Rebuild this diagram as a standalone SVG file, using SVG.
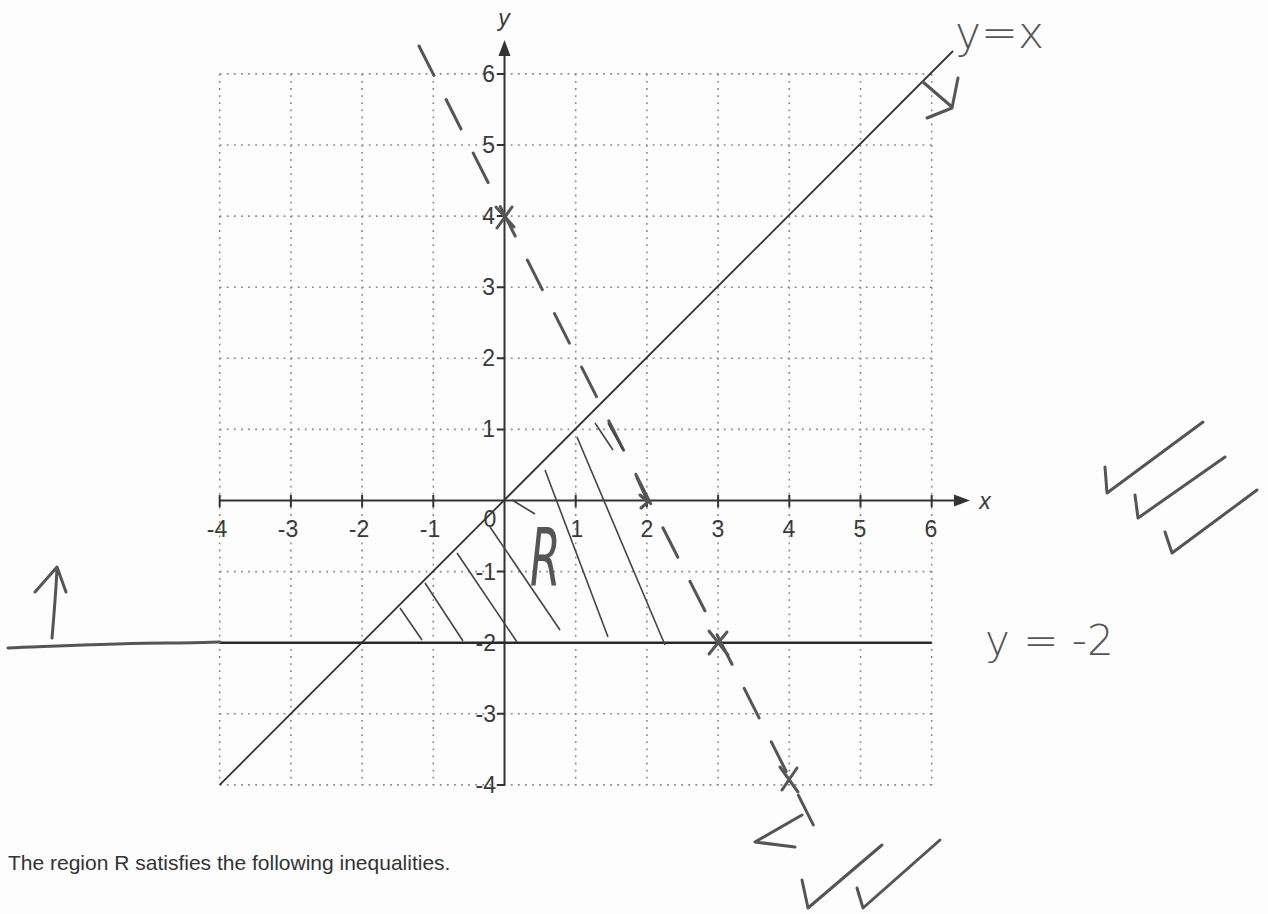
<svg xmlns="http://www.w3.org/2000/svg" width="1268" height="914" viewBox="0 0 1268 914">
<style>
.grid{stroke:#8a8a8a;stroke-width:1.6;stroke-dasharray:1.8 5.3;fill:none}
.axis{stroke:#333;stroke-width:2;fill:none}
.tick{stroke:#333;stroke-width:2}
.lbl{font-family:"Liberation Sans",Arial,sans-serif;font-size:23px;fill:#3a3a3a}
.pen{stroke:#555;stroke-width:3;fill:none;stroke-linecap:round;stroke-linejoin:round}
.hatch{stroke:#444;stroke-width:1.6;fill:none}
.hand{font-family:"DejaVu Sans",sans-serif;font-weight:200;fill:#555}
</style>
<rect width="1268" height="914" fill="#fdfdfd"/>
<g id="grid">
<path class="grid" d="M219.7,73.9V784.9M290.9,73.9V784.9M362.1,73.9V784.9M433.3,73.9V784.9M575.7,73.9V784.9M646.9,73.9V784.9M718.1,73.9V784.9M789.3,73.9V784.9M860.5,73.9V784.9M931.7,73.9V784.9"/>
<path class="grid" d="M219.7,73.9H931.7M219.7,145H931.7M219.7,216.1H931.7M219.7,287.2H931.7M219.7,358.3H931.7M219.7,429.4H931.7M219.7,571.6H931.7M219.7,642.7H931.7M219.7,713.8H931.7M219.7,784.9H931.7"/>
</g>
<g id="axes">
<path class="axis" d="M219.7,500.5H958"/>
<path d="M970,500.5l-16,-6v12z" fill="#333"/>
<path class="axis" d="M504.5,784.9V52"/>
<path d="M504.5,40l-6,16h12z" fill="#333"/>
<path class="tick" d="M219.7,495v12M290.9,495v12M362.1,495v12M433.3,495v12M575.7,495v12M646.9,495v12M718.1,495v12M789.3,495v12M860.5,495v12M931.7,495v12"/>
<path class="tick" d="M497,73.9h8M497,145h8M497,216.1h8M497,287.2h8M497,358.3h8M497,429.4h8M497,571.6h8M497,642.7h8M497,713.8h8M497,784.9h8"/>
<text class="lbl" x="985" y="509" font-style="italic" text-anchor="middle">x</text>
<text class="lbl" x="504" y="26" font-style="italic" text-anchor="middle">y</text>
</g>
<g id="xlabels" class="lbl" text-anchor="middle">
<text x="217" y="537">-4</text><text x="288" y="537">-3</text><text x="359" y="537">-2</text><text x="430" y="537">-1</text>
<text x="490" y="527">0</text>
<text x="577" y="537">1</text><text x="647" y="537">2</text><text x="718" y="537">3</text><text x="789" y="537">4</text><text x="860" y="537">5</text><text x="931" y="537">6</text>
</g>
<g id="ylabels" class="lbl" text-anchor="end">
<text x="495" y="82">6</text><text x="495" y="153">5</text><text x="495" y="224">4</text><text x="495" y="295">3</text><text x="495" y="366">2</text><text x="495" y="437">1</text>
<text x="496" y="580">-1</text><text x="496" y="651">-2</text><text x="496" y="722">-3</text><text x="496" y="793">-4</text>
</g>
<g id="lines">
<path d="M219.7,784.9L953,51" stroke="#333" stroke-width="1.8" fill="none"/>
<path d="M219.7,642.7H931.7" stroke="#2a2a2a" stroke-width="2.4" fill="none"/>
<path class="pen" d="M419,46L825,848" stroke-dasharray="33 27" stroke-width="2.8"/>
</g>
<g id="hatching" class="hatch">
<path d="M400,608L422,640M425,583L463,641M457,553L517,642M490,527L560,630M545,470L608,637M577,437L665,645M512,500L535,514"/>
<path d="M595,423L613,450M608,423L623,450"/>
</g>
<g id="pen-marks" class="pen">
<path d="M496,207L514,227M512,207L497,228"/>
<path d="M709,631L728,655M727,632L709,654"/>
<path d="M780,767L798,792M797,768L782,790"/>
<path d="M637,478L648,502M640,495L648,502L641,508"/>
<path d="M923,82L952,107M958,78L952,108L927,118"/>
<path d="M802,815L755,842L795,847"/>
<path d="M8,648C60,646 120,643 165,643S210,642 220,642"/>
<path d="M52,638C54,615 56,590 57,568M35,592L57,567L66,592"/>
<path d="M1105,467L1107,493L1203,422"/>
<path d="M1135,495L1138,518L1225,457"/>
<path d="M1165,532L1172,553L1257,490"/>
<path d="M802,880L808,908L882,845"/>
<path d="M857,888L863,908L940,840"/>
</g>
<g id="handwriting">
<text class="hand" transform="translate(530,586) scale(0.55,1)" font-size="80" font-style="italic">R</text>
<text class="hand" x="955" y="48" font-size="44">y=x</text>
<text class="hand" x="985" y="655" font-size="42">y = -2</text>
</g>
<text x="8" y="870" font-family="'Liberation Sans',Arial,sans-serif" font-size="21" fill="#333">The region R satisfies the following inequalities.</text>
</svg>
